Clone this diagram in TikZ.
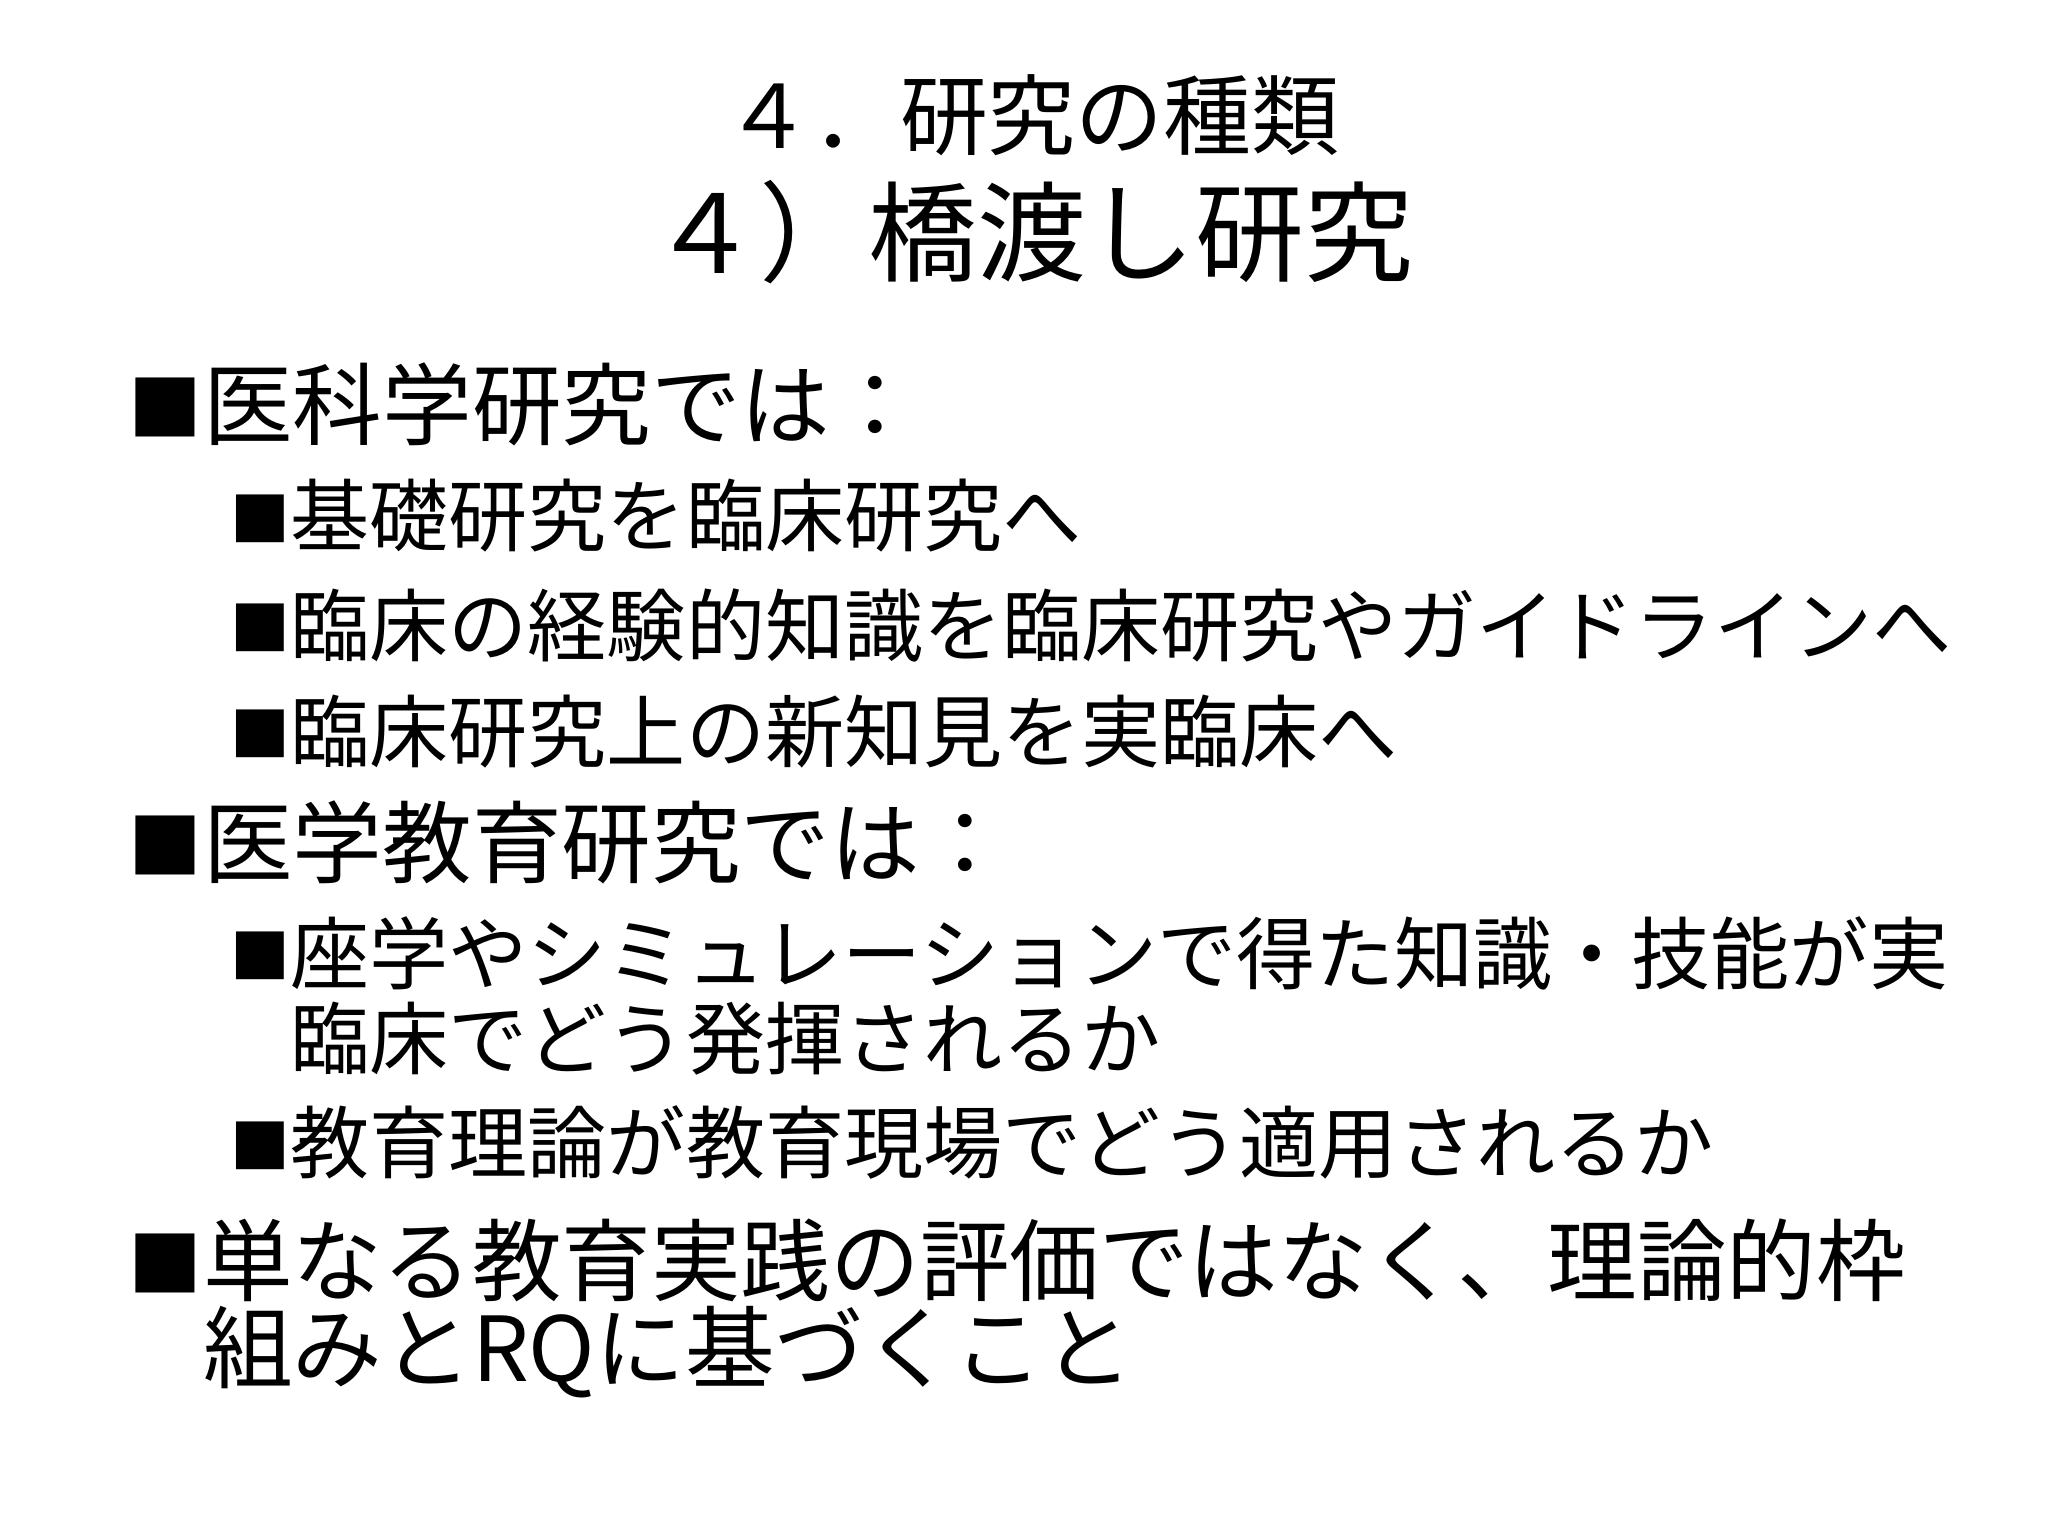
\documentclass[tikz,border=0pt]{standalone}
\usepackage{fontspec}
\setmainfont{Noto Sans CJK JP}
\begin{document}
\begin{tikzpicture}[x=0.013061cm,y=-0.013061cm,
  t/.style={inner sep=0pt,anchor=west},
  ma/.style={t,font=\fontsize{25.5pt}{30pt}\selectfont},
  su/.style={t,font=\fontsize{22.5pt}{27pt}\selectfont},
  bm/.style={t,font=\fontsize{21pt}{25pt}\selectfont},
  bs/.style={t,font=\fontsize{17pt}{20pt}\selectfont}]
\useasboundingbox (0,0) rectangle (1568,1176);
\node[inner sep=0pt,font=\fontsize{25pt}{30pt}\selectfont] (t1) at (790,88) {４．研究の種類};
\node[inner sep=0pt,font=\fontsize{31pt}{36pt}\selectfont] (t2) at (790,178) {４）橋渡し研究};
\node[bm] (b1) at (98,312) {■}; \node[ma] (m1) at (155,310) {医科学研究では：};
\node[bs] (s1b) at (176,397) {■}; \node[su] (s1) at (222,395) {基礎研究を臨床研究へ};
\node[bs] (s2b) at (176,481) {■}; \node[su] (s2) at (222,479) {臨床の経験的知識を臨床研究やガイドラインへ};
\node[bs] (s3b) at (176,562) {■}; \node[su] (s3) at (222,560) {臨床研究上の新知見を実臨床へ};
\node[bm] (b2) at (98,647) {■}; \node[ma] (m2) at (155,645) {医学教育研究では：};
\node[bs] (s4b) at (176,732) {■}; \node[su] (s4) at (222,730) {座学やシミュレーションで得た知識・技能が実};
\node[su] (s4c) at (222,795) {臨床でどう発揮されるか};
\node[bs] (s5b) at (176,877) {■}; \node[su] (s5) at (222,875) {教育理論が教育現場でどう適用されるか};
\node[bm] (b3) at (98,967) {■}; \node[ma] (m3) at (155,965) {単なる教育実践の評価ではなく、理論的枠};
\node[ma] (m3c) at (155,1035) {組みとRQに基づくこと};
\end{tikzpicture}
\end{document}
